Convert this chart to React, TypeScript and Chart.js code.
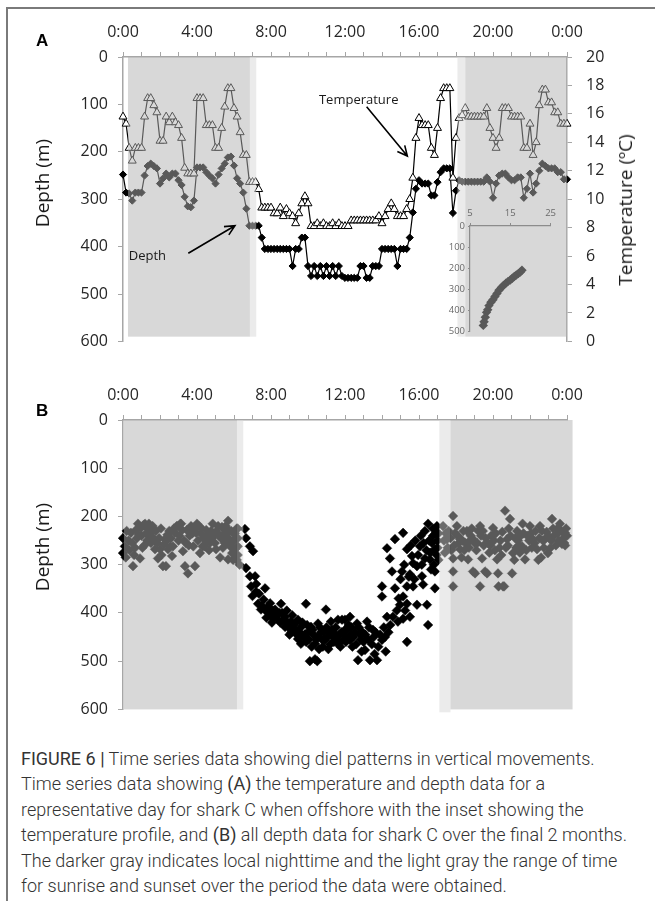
import React, { useEffect, useRef } from 'react';
import { Chart, registerables } from 'chart.js';
Chart.register(...registerables);

// ---------- tick labels / axes ----------
const X_TICK_LABELS = ['0:00', '4:00', '8:00', '12:00', '16:00', '20:00', '0:00'];
const X_LABEL_EVERY = 4;
const DEPTH_MAX = 600;
const DEPTH_STEP = 100;
const TEMP_MAX = 20;
const TEMP_STEP = 2;

// ---------- panel A: one representative day, 10-min samples ----------
const STEP_HOURS_A = 1 / 6;
const TEMP_A = [
  15.8, 15.3, 13.6, 12.7, 13.6, 13.6, 13.6, 15.8, 17.1, 17.1, 16.6, 16.1,
  14.1, 14.1, 15.8, 15.4, 15.8, 15.4, 15.2, 14.3, 12.2, 11.8, 11.8, 11.8,
  17.1, 17.1, 17.1, 15.2, 15.2, 15.2, 13.6, 13.6, 15.0, 16.5, 17.8, 17.8,
  16.4, 15.8, 14.7, 13.1, 13.1, 11.2, 11.2, 11.2, 10.7, 9.4, 9.4, 9.4,
  9.4, 9.0, 9.0, 9.4, 8.8, 9.3, 9.0, 8.8, 8.3, 9.0, 9.7, 10.2,
  9.7, 8.1, 8.1, 8.3, 8.1, 8.3, 8.1, 8.1, 8.3, 8.1, 8.3, 8.1,
  8.1, 8.1, 8.5, 8.5, 8.5, 8.5, 8.5, 8.5, 8.5, 8.5, 8.5, 8.8,
  8.3, 8.8, 9.3, 9.7, 9.3, 8.8, 8.8, 8.8, 9.3, 10.0, 11.5, 14.3,
  15.7, 15.2, 15.2, 15.2, 13.6, 13.1, 15.0, 17.1, 17.8, 17.8, 17.8, 11.5,
  14.3, 15.7, 15.9, 16.4, 15.8, 15.8, 15.8, 15.8, 15.8, 15.8, 16.4, 15.0,
  14.3, 13.6, 14.3, 16.4, 16.4, 16.4, 15.8, 15.8, 15.8, 15.8, 13.6, 13.6,
  15.3, 13.1, 14.0, 16.6, 17.7, 17.7, 16.8, 16.8, 16.1, 16.1, 15.3, 15.3,
  15.3,
];
const DEPTH_A = [
  248, 286, 288, 303, 286, 286, 286, 250, 230, 225, 230, 235,
  267, 256, 246, 254, 246, 246, 260, 270, 295, 315, 317, 303,
  233, 233, 233, 243, 250, 256, 267, 248, 235, 225, 212, 210,
  229, 256, 267, 286, 320, 356, 356, 356, 356, 381, 405, 405,
  405, 405, 405, 405, 405, 405, 405, 441, 405, 405, 381, 381,
  441, 462, 441, 462, 441, 462, 441, 462, 441, 462, 441, 462,
  466, 466, 466, 466, 466, 441, 441, 466, 466, 441, 441, 441,
  405, 405, 405, 405, 405, 441, 405, 405, 405, 381, 328, 278,
  260, 267, 267, 267, 292, 292, 264, 243, 235, 235, 235, 329,
  282, 260, 263, 263, 263, 263, 263, 263, 263, 263, 254, 263,
  297, 267, 250, 246, 246, 254, 260, 260, 254, 254, 297, 278,
  246, 286, 267, 240, 225, 230, 235, 235, 235, 243, 243, 258,
  258,
];
const TIME_A = DEPTH_A.map((_, i) => i * STEP_HOURS_A);

// night / twilight shading [startHour, endHour, bottomDepth]
const NIGHT_A = [[0.27, 6.86, 590], [18.5, 24, 590]];
const TWILIGHT_A = [[6.86, 7.2, 590], [18.08, 18.5, 590]];

// annotations in data units (hour, depth)
const ANNOT_TEXT_A = [
  { text: 'Depth', h: 1.32, d: 421 },
  { text: 'Temperature', h: 12.74, d: 91 },
];
const ANNOT_ARROWS_A = [
  { from: [3.53, 414], to: [6.05, 356] },
  { from: [13.17, 105], to: [15.37, 209] },
];

// inset: temperature profile
const INSET_TEMP = [8.3, 8.5, 8.8, 9.1, 9.4, 9.7, 10.2, 10.7, 11.2, 11.7, 12.2, 12.8, 13.3, 13.9, 14.4, 15.0, 15.5, 16.0, 16.5, 17.0, 17.5, 17.9];
const INSET_DEPTH = [472, 455, 433, 410, 398, 378, 362, 350, 335, 320, 305, 292, 282, 272, 264, 256, 248, 240, 233, 226, 218, 210];
const INSET_T_MIN = 5;
const INSET_T_MAX = 25;
const INSET_T_STEP = 10;
const INSET_D_MAX = 500;

// ---------- panel B: all depth records [hour, depth] ----------
const B_EARLY: [number, number][] = [
  [0.0, 245], [0.0, 276], [0.1, 262], [0.15, 285], [0.3, 250], [0.43, 234], [0.5, 255], [0.54, 303], [0.6, 280], [0.65, 265],
  [0.75, 245], [0.81, 215], [0.85, 238], [0.92, 287], [0.97, 224], [1.05, 265], [1.1, 218], [1.19, 215], [1.25, 235], [1.3, 250],
  [1.35, 226], [1.4, 215], [1.46, 240], [1.51, 255], [1.6, 220], [1.65, 245], [1.73, 268], [1.78, 230], [1.85, 255], [1.89, 287],
  [1.95, 245], [2.0, 268], [2.08, 280], [2.16, 303], [2.2, 258], [2.27, 247], [2.32, 303], [2.4, 238], [2.43, 268], [2.5, 230],
  [2.59, 245], [2.65, 282], [2.7, 262], [2.81, 234], [2.9, 220], [2.97, 220], [3.05, 240], [3.1, 215], [3.14, 215], [3.2, 228],
  [3.24, 272], [3.3, 250], [3.35, 303], [3.4, 255], [3.51, 318], [3.6, 240], [3.68, 220], [3.75, 235], [3.8, 262], [3.89, 303],
  [3.95, 234], [4.0, 215], [4.05, 250], [4.1, 220], [4.16, 276], [4.22, 236], [4.3, 262], [4.35, 245], [4.43, 247], [4.5, 228],
  [4.59, 236], [4.65, 270], [4.7, 255], [4.76, 230], [4.85, 215], [4.9, 240], [4.97, 255], [5.03, 268], [5.1, 235], [5.14, 220],
  [5.2, 240], [5.25, 285], [5.3, 245], [5.35, 222], [5.4, 265], [5.45, 240], [5.51, 234], [5.6, 250], [5.65, 230], [5.68, 209],
  [5.68, 289], [5.75, 230], [5.8, 262], [5.84, 255], [5.9, 276], [5.95, 234], [6.0, 250], [6.05, 268], [6.11, 245], [6.15, 225],
  [6.15, 290], [0.2, 230], [0.35, 270], [0.7, 228], [1.0, 240], [1.15, 260], [1.55, 232], [1.7, 250], [2.05, 225], [2.35, 250],
  [2.55, 262], [2.75, 225], [3.0, 250], [3.45, 228], [3.55, 260], [3.85, 225], [4.25, 225], [4.4, 262], [4.55, 250], [4.8, 245],
  [5.05, 230], [5.5, 255], [5.55, 220], [5.7, 245], [5.85, 230], [6.05, 235], [6.1, 280], [5.95, 290],
];
const B_DAY: [number, number][] = [
  [6.2, 225], [6.2, 245], [6.2, 262], [6.2, 280], [6.3, 300], [6.59, 226], [6.65, 245], [6.86, 262], [7.03, 272], [6.65, 307],
  [6.86, 324], [7.14, 324], [6.92, 345], [7.19, 356], [7.68, 349], [7.0, 365], [7.3, 381], [7.46, 393], [7.6, 372], [7.84, 387],
  [7.9, 400], [8.0, 408], [8.1, 395], [8.22, 393], [8.3, 405], [8.38, 414], [8.54, 381], [8.6, 400], [8.76, 408], [8.76, 429],
  [8.9, 420], [9.0, 445], [9.08, 418], [9.2, 425], [9.3, 435], [9.46, 414], [9.46, 454], [9.6, 430], [9.62, 464], [9.84, 444],
  [9.89, 381], [9.9, 460], [10.0, 440], [10.1, 500], [10.16, 429], [10.3, 445], [10.38, 464], [10.38, 496], [10.5, 500], [10.54, 422],
  [10.54, 450], [10.7, 440], [10.8, 470], [10.92, 456], [10.97, 393], [11.0, 430], [11.1, 475], [11.24, 418], [11.3, 435], [11.4, 460],
  [11.46, 444], [11.62, 414], [11.62, 464], [11.8, 440], [11.84, 414], [11.89, 456], [12.0, 414], [12.0, 435], [12.11, 435], [12.16, 454],
  [12.27, 408], [12.27, 456], [12.3, 445], [12.4, 470], [12.65, 422], [12.7, 498], [12.81, 444], [12.9, 480], [13.0, 460], [13.08, 477],
  [13.19, 418], [13.35, 498], [13.51, 435], [13.6, 485], [13.73, 498], [14.0, 456], [14.0, 345], [14.0, 366], [14.16, 450], [14.27, 408],
  [14.27, 266], [14.43, 287], [14.54, 314], [14.59, 408], [14.7, 247], [14.7, 349], [14.86, 418], [14.97, 383], [15.08, 314], [15.14, 412],
  [15.14, 234], [15.14, 366], [15.35, 460], [15.35, 381], [15.35, 345], [15.35, 268], [15.51, 408], [15.51, 320], [15.62, 282], [15.68, 345],
  [15.68, 297], [15.89, 383], [15.89, 303], [16.05, 262], [16.16, 324], [16.22, 341], [16.32, 230], [16.32, 287], [16.43, 383], [16.49, 425],
  [16.49, 215], [16.59, 289], [16.6, 275], [16.7, 255], [16.76, 240], [16.8, 300], [16.86, 349], [16.86, 314], [16.86, 268], [16.9, 235],
  [16.97, 220], [17.0, 250], [17.0, 265], [17.05, 290],
  [7.2, 340], [7.35, 360], [7.5, 385], [7.7, 395], [7.75, 410], [7.95, 380], [8.05, 420], [8.15, 410], [8.45, 400], [8.5, 420],
  [8.65, 415], [8.85, 395], [8.95, 430], [9.1, 440], [9.15, 405], [9.35, 420], [9.4, 445], [9.55, 440], [9.7, 420], [9.75, 450],
  [9.95, 425], [10.05, 455], [10.2, 470], [10.25, 435], [10.45, 455], [10.6, 475], [10.65, 430], [10.75, 455], [10.85, 440], [11.05, 450],
  [11.15, 440], [11.2, 465], [11.35, 450], [11.5, 430], [11.55, 455], [11.7, 445], [11.75, 470], [11.95, 445], [12.05, 460], [12.2, 425],
  [12.35, 430], [12.45, 450], [12.55, 440], [12.6, 465], [12.75, 430], [12.85, 455], [12.95, 440], [13.1, 445], [13.25, 455], [13.3, 430],
  [13.45, 465], [13.55, 450], [13.65, 440], [13.8, 470], [13.9, 445], [14.1, 430], [14.2, 480], [14.35, 440], [14.45, 425], [14.8, 395],
  [14.9, 370], [15.0, 330], [15.2, 300], [15.25, 395], [15.45, 325], [15.55, 260], [15.75, 330], [15.8, 250], [15.95, 280], [16.1, 240],
  [16.15, 300], [16.25, 255], [16.4, 270], [16.55, 250], [16.65, 310], [16.75, 225], [16.95, 280], [17.05, 235],
];
const B_LATE: [number, number][] = [
  [17.3, 220], [17.35, 250], [17.4, 275], [17.51, 247], [17.6, 230], [17.84, 199], [17.84, 287], [17.84, 314], [17.84, 345], [17.9, 260],
  [18.05, 220], [18.1, 240], [18.22, 247], [18.22, 268], [18.3, 285], [18.4, 230], [18.5, 255], [18.59, 230], [18.65, 289], [18.7, 265],
  [18.8, 240], [18.92, 247], [18.92, 314], [19.03, 318], [19.1, 270], [19.2, 230], [19.3, 220], [19.3, 345], [19.35, 240], [19.41, 287],
  [19.5, 260], [19.57, 314], [19.68, 318], [19.73, 255], [19.8, 275], [19.9, 240], [20.0, 224], [20.1, 270], [20.22, 289], [20.27, 318],
  [20.3, 345], [20.4, 250], [20.5, 232], [20.54, 345], [20.6, 345], [20.65, 188], [20.7, 265], [20.76, 247], [20.85, 225], [20.92, 205],
  [21.03, 318], [21.08, 276], [21.15, 290], [21.2, 245], [21.3, 230], [21.4, 260], [21.5, 240], [21.57, 262], [21.6, 215], [21.73, 289],
  [21.8, 270], [21.85, 240], [22.0, 220], [22.1, 265], [22.16, 247], [22.3, 230], [22.38, 268], [22.45, 290], [22.54, 220], [22.6, 285],
  [22.7, 250], [22.81, 247], [22.9, 232], [22.97, 276], [23.08, 266], [23.19, 205], [23.3, 240], [23.4, 260], [23.46, 226], [23.55, 250],
  [23.62, 215], [23.73, 257], [23.8, 245], [23.89, 234], [23.9, 260], [23.95, 225],
  [17.45, 235], [17.55, 265], [17.7, 245], [17.75, 270], [17.95, 235], [18.15, 255], [18.35, 250], [18.45, 270], [18.75, 250], [18.85, 225],
  [19.0, 255], [19.15, 255], [19.45, 230], [19.6, 245], [19.85, 260], [20.05, 250], [20.15, 235], [20.35, 265], [20.45, 280], [20.8, 260],
  [20.95, 240], [21.25, 265], [21.35, 250], [21.45, 275], [21.65, 235], [21.95, 250], [22.05, 235], [22.25, 255], [22.5, 245], [22.65, 230],
  [22.75, 265], [23.0, 240], [23.15, 250], [23.25, 225], [23.5, 235], [23.7, 230], [23.85, 255], [24.0, 240],
];
const NIGHT_B = [[0.05, 6.16, 600], [17.7, 24.3, 600]];
const TWILIGHT_B = [[6.16, 6.5, 600], [17.1, 17.7, 606]];

// ---------- styles ----------
const FONT = "'Open Sans', 'Liberation Sans', sans-serif";
const TICK_COLOR = '#262626';
const AXIS_COLOR = '#a6a6a6';
const NIGHT_COLOR = 'rgba(178,178,178,0.5)';
const TWILIGHT_COLOR = 'rgba(216,216,216,0.5)';
const axisFont = { family: FONT, size: 16 };

function shadePlugin(night: number[][], twilight: number[][]) {
  return {
    id: 'shade',
    afterDatasetsDraw(chart: any) {
      const { ctx, scales, chartArea } = chart;
      const x = scales.x;
      const y = scales.y;
      const draw = (ranges: number[][], color: string) => {
        ctx.save();
        ctx.fillStyle = color;
        ranges.forEach(([a, b, bottom]) => {
          const x0 = x.getPixelForValue(a);
          const x1 = x.getPixelForValue(b);
          const y1 = y.getPixelForValue(bottom);
          ctx.fillRect(x0, chartArea.top, x1 - x0, y1 - chartArea.top);
        });
        ctx.restore();
      };
      draw(night, NIGHT_COLOR);
      draw(twilight, TWILIGHT_COLOR);
    },
  };
}

const annotPlugin = {
  id: 'annot',
  afterDatasetsDraw(chart: any) {
    const { ctx, scales } = chart;
    const x = scales.x;
    const y = scales.y;
    ctx.save();
    ctx.fillStyle = '#1a1a1a';
    ctx.font = `13px ${FONT}`;
    ctx.textAlign = 'center';
    ctx.textBaseline = 'middle';
    ANNOT_TEXT_A.forEach((t) => ctx.fillText(t.text, x.getPixelForValue(t.h), y.getPixelForValue(t.d)));
    ctx.strokeStyle = '#000';
    ctx.lineWidth = 1.6;
    ANNOT_ARROWS_A.forEach((a) => {
      const x0 = x.getPixelForValue(a.from[0]);
      const y0 = y.getPixelForValue(a.from[1]);
      const x1 = x.getPixelForValue(a.to[0]);
      const y1 = y.getPixelForValue(a.to[1]);
      const ang = Math.atan2(y1 - y0, x1 - x0);
      const L = 11;
      ctx.beginPath();
      ctx.moveTo(x0, y0);
      ctx.lineTo(x1, y1);
      ctx.moveTo(x1 - L * Math.cos(ang - 0.45), y1 - L * Math.sin(ang - 0.45));
      ctx.lineTo(x1, y1);
      ctx.lineTo(x1 - L * Math.cos(ang + 0.45), y1 - L * Math.sin(ang + 0.45));
      ctx.stroke();
    });
    ctx.restore();
  },
};

function timeAxis(height: number) {
  return {
    type: 'linear',
    position: 'top',
    min: 0,
    max: 24,
    afterFit: (s: any) => { s.height = height; },
    ticks: {
      stepSize: 1,
      autoSkip: false,
      maxRotation: 0,
      padding: 10,
      color: TICK_COLOR,
      font: axisFont,
      callback: (v: number) => (v % X_LABEL_EVERY === 0 ? X_TICK_LABELS[v / X_LABEL_EVERY] : ''),
    },
    grid: { drawOnChartArea: false, drawTicks: true, tickLength: 5, color: AXIS_COLOR, lineWidth: 1 },
    border: { display: true, color: AXIS_COLOR, width: 1.5 },
  };
}

function depthAxis() {
  return {
    type: 'linear',
    position: 'left',
    min: 0,
    max: DEPTH_MAX,
    reverse: true,
    afterFit: (s: any) => { s.width = 123; },
    ticks: { stepSize: DEPTH_STEP, padding: 10, color: TICK_COLOR, font: axisFont },
    grid: { drawOnChartArea: false, drawTicks: true, tickLength: 5, color: AXIS_COLOR, lineWidth: 1 },
    border: { display: true, color: AXIS_COLOR, width: 1.5 },
  };
}

const baseOptions = {
  responsive: false,
  animation: false,
  devicePixelRatio: 1,
  events: [],
  plugins: { legend: { display: false }, tooltip: { enabled: false } },
};

function PanelA() {
  const ref = useRef<HTMLCanvasElement>(null);
  useEffect(() => {
    const chart = new Chart(ref.current!, {
      type: 'scatter',
      data: {
        datasets: [
          {
            data: TIME_A.map((h, i) => ({ x: h, y: TEMP_A[i] })),
            yAxisID: 'yT',
            showLine: true,
            borderColor: '#000',
            borderWidth: 1.2,
            pointStyle: 'triangle',
            pointRadius: 4.6,
            pointBorderWidth: 1,
            pointBackgroundColor: '#fff',
            pointBorderColor: '#000',
            clip: false,
          },
          {
            data: TIME_A.map((h, i) => ({ x: h, y: DEPTH_A[i] })),
            yAxisID: 'y',
            showLine: true,
            borderColor: '#000',
            borderWidth: 1.2,
            pointStyle: 'rectRot',
            pointRadius: 3.6,
            pointBorderWidth: 1,
            pointBackgroundColor: '#000',
            pointBorderColor: '#000',
            clip: false,
          },
        ],
      },
      options: {
        ...baseOptions,
        layout: { padding: 0 },
        scales: {
          x: timeAxis(57),
          y: depthAxis(),
          yT: {
            type: 'linear',
            position: 'right',
            min: 0,
            max: TEMP_MAX,
            afterFit: (s: any) => { s.width = 88; },
            ticks: { stepSize: TEMP_STEP, padding: 14, color: TICK_COLOR, font: axisFont },
            grid: { drawOnChartArea: false, drawTicks: true, tickLength: 5, color: AXIS_COLOR, lineWidth: 1 },
            border: { display: true, color: AXIS_COLOR, width: 1.5 },
          },
        },
      } as any,
      plugins: [shadePlugin(NIGHT_A, TWILIGHT_A), annotPlugin],
    } as any);
    return () => chart.destroy();
  }, []);
  return <canvas ref={ref} width={655} height={365} style={{ position: 'absolute', left: 0, top: 0 }} />;
}

function Inset() {
  const ref = useRef<HTMLCanvasElement>(null);
  useEffect(() => {
    const small = { family: FONT, size: 9.5 };
    const chart = new Chart(ref.current!, {
      type: 'scatter',
      data: {
        datasets: [
          {
            data: INSET_TEMP.map((t, i) => ({ x: t, y: INSET_DEPTH[i] })),
            showLine: true,
            borderColor: '#595959',
            borderWidth: 2,
            pointStyle: 'rectRot',
            pointRadius: 3.3,
            pointBackgroundColor: '#595959',
            pointBorderColor: '#595959',
            clip: false,
          },
        ],
      },
      options: {
        ...baseOptions,
        layout: { padding: { left: 0, right: 3, top: 0, bottom: 0 } },
        scales: {
          x: {
            type: 'linear',
            position: 'top',
            min: INSET_T_MIN,
            max: INSET_T_MAX,
            afterFit: (s: any) => { s.height = 28; },
            ticks: { stepSize: INSET_T_STEP, padding: 4, color: '#6a6a6a', font: small, maxRotation: 0 },
            grid: { drawOnChartArea: false, tickLength: 3, color: '#8c8c8c' },
            border: { color: '#8c8c8c', width: 1.2 },
          },
          y: {
            type: 'linear',
            min: 0,
            max: INSET_D_MAX,
            reverse: true,
            afterFit: (s: any) => { s.width = 40; },
            ticks: { stepSize: 100, padding: 3, color: '#6a6a6a', font: small },
            grid: { drawOnChartArea: false, tickLength: 2, color: '#8c8c8c' },
            border: { color: '#8c8c8c', width: 1.2 },
          },
        },
      } as any,
    } as any);
    return () => chart.destroy();
  }, []);
  return <canvas ref={ref} width={130} height={142} style={{ position: 'absolute', left: 430, top: 198 }} />;
}

function PanelB() {
  const ref = useRef<HTMLCanvasElement>(null);
  useEffect(() => {
    const pts = [...B_EARLY, ...B_DAY, ...B_LATE].map(([h, d]) => ({ x: h, y: d }));
    const chart = new Chart(ref.current!, {
      type: 'scatter',
      data: {
        datasets: [
          {
            data: pts,
            pointStyle: 'rectRot',
            pointRadius: 4.8,
            pointBackgroundColor: '#000',
            pointBorderColor: '#000',
            pointBorderWidth: 0.5,
            clip: false,
          },
        ],
      },
      options: {
        ...baseOptions,
        layout: { padding: { left: 0, right: 88, top: 0, bottom: 0 } },
        scales: { x: timeAxis(55), y: depthAxis() },
      } as any,
      plugins: [shadePlugin(NIGHT_B, TWILIGHT_B)],
    } as any);
    return () => chart.destroy();
  }, []);
  return <canvas ref={ref} width={655} height={364} style={{ position: 'absolute', left: 0, top: 365 }} />;
}

function VTitle({ text, cx, cy }: { text: string; cx: number; cy: number }) {
  return (
    <div
      style={{
        position: 'absolute',
        left: cx,
        top: cy,
        transform: 'translate(-50%, -50%) rotate(-90deg)',
        whiteSpace: 'nowrap',
        font: `19px ${FONT}`,
        color: '#1a1a1a',
        lineHeight: '22px',
      }}
    >
      {text}
    </div>
  );
}

const CAPTION_LINES: React.ReactNode[] = [
  <><b>FIGURE 6 |</b> Time series data showing diel patterns in vertical movements.</>,
  <>Time series data showing <b>(A)</b> the temperature and depth data for a</>,
  <>representative day for shark C when offshore with the inset showing the</>,
  <>temperature profile, and <b>(B)</b> all depth data for shark C over the final 2 months.</>,
  <>The darker gray indicates local nighttime and the light gray the range of time</>,
  <>for sunrise and sunset over the period the data were obtained.</>,
];

export default function App() {
  return (
    <div style={{ position: 'absolute', left: 0, top: 0, width: 655, height: 901, background: '#fff', overflow: 'hidden' }}>
      <PanelA />
      <Inset />
      <PanelB />
      <div style={{ position: 'absolute', left: 7, top: 7, width: 648, height: 2, background: '#7a7a7a' }} />
      <div style={{ position: 'absolute', left: 6, top: 7, width: 2, height: 894, background: '#7a7a7a' }} />
      <div style={{ position: 'absolute', left: 36, top: 31, font: `bold 17px 'Liberation Sans', Arial, sans-serif`, color: '#000' }}>A</div>
      <div style={{ position: 'absolute', left: 36, top: 401, font: `bold 17px 'Liberation Sans', Arial, sans-serif`, color: '#000' }}>B</div>
      <VTitle text="Depth (m)" cx={42} cy={183} />
      <VTitle text="Temperature (ºC)" cx={625} cy={210} />
      <VTitle text="Depth (m)" cx={42} cy={547} />
      <div style={{ position: 'absolute', left: 21, top: 746, font: `300 18px Roboto, 'Liberation Sans', sans-serif`, color: '#333' }}>
        {CAPTION_LINES.map((l, i) => (
          <div key={i} style={{ height: 25.4, lineHeight: '25.4px', whiteSpace: 'nowrap' }}>{l}</div>
        ))}
      </div>
    </div>
  );
}
